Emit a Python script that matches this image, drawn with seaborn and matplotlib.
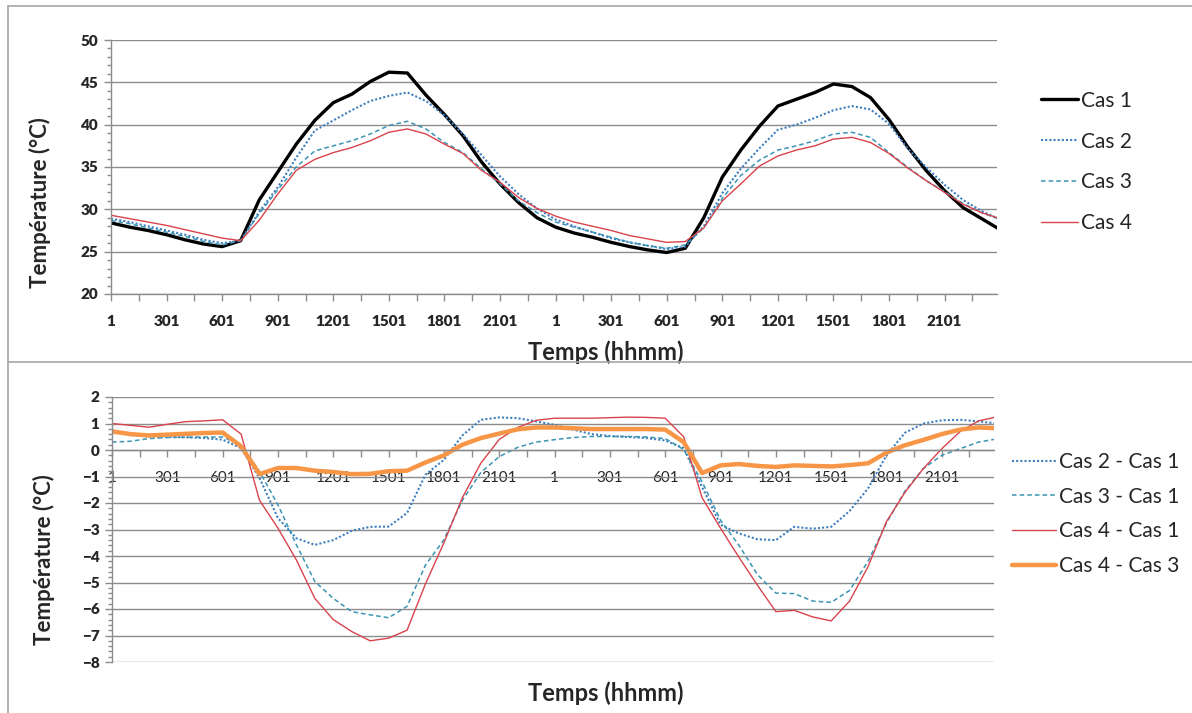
import matplotlib.pyplot as plt
import seaborn as sns
from matplotlib.lines import Line2D
from matplotlib.ticker import MultipleLocator, FixedLocator

# time axis: hours over two days, labels every 3 h
hours = list(range(49))
tick_hours = [0, 3, 6, 9, 12, 15, 18, 21, 24, 27, 30, 33, 36, 39, 42, 45]
tick_labels = ["1", "301", "601", "901", "1201", "1501", "1801", "2101"] * 2

# top panel - temperatures (°C)
cas1 = [28.4, 27.9, 27.5, 27.0, 26.4, 25.9, 25.6, 26.3, 31.1, 34.4,
        37.7, 40.5, 42.6, 43.6, 45.1, 46.2, 46.1, 43.5, 41.2, 38.7,
        35.6, 33.0, 30.8, 29.0, 27.9, 27.2, 26.7, 26.1, 25.6, 25.2,
        24.9, 25.4, 29.0, 33.8, 37.0, 39.8, 42.2, 43.0, 43.8, 44.8,
        44.5, 43.2, 40.6, 37.4, 34.6, 32.2, 30.2, 28.9, 27.6]
cas2 = [28.9, 28.5, 28.0, 27.5, 27.0, 26.4, 26.0, 26.3, 29.7, 32.6,
        36.1, 39.3, 40.5, 41.7, 42.8, 43.4, 43.8, 42.8, 41.1, 38.9,
        36.4, 33.9, 31.8, 30.1, 28.8, 28.0, 27.3, 26.6, 26.1, 25.7,
        25.3, 25.6, 28.0, 31.9, 34.8, 37.2, 39.4, 40.0, 40.8, 41.7,
        42.2, 41.8, 40.1, 37.2, 35.0, 32.9, 31.1, 29.8, 28.8]
cas3 = [28.7, 28.3, 27.8, 27.3, 26.8, 26.2, 25.8, 26.3, 29.5, 32.3,
        35.0, 36.9, 37.5, 38.1, 38.9, 39.9, 40.4, 39.5, 37.9, 36.7,
        34.8, 33.0, 31.0, 29.6, 28.5, 27.9, 27.3, 26.7, 26.1, 25.7,
        25.4, 25.8, 27.8, 31.3, 34.0, 35.8, 37.0, 37.5, 38.1, 38.9,
        39.1, 38.5, 36.7, 35.0, 33.4, 32.1, 30.7, 29.6, 28.8]
cas4 = [29.3, 28.9, 28.5, 28.1, 27.6, 27.1, 26.6, 26.3, 28.7, 31.8,
        34.6, 35.9, 36.7, 37.3, 38.1, 39.1, 39.5, 38.9, 37.7, 36.6,
        34.6, 33.2, 31.4, 30.1, 29.2, 28.5, 28.0, 27.5, 26.9, 26.5,
        26.1, 26.2, 27.8, 31.0, 33.0, 35.1, 36.3, 37.0, 37.5, 38.3,
        38.5, 37.9, 36.6, 34.9, 33.4, 32.0, 30.6, 29.6, 28.9]

# bottom panel - differences (°C)
diff21 = [0.75, 0.57, 0.51, 0.50, 0.48, 0.45, 0.39, 0.07, -1.06, -2.57,
          -3.33, -3.58, -3.40, -3.05, -2.90, -2.89, -2.38, -0.93, -0.37, 0.55,
          1.14, 1.23, 1.20, 1.08, 0.95, 0.77, 0.60, 0.53, 0.49, 0.45,
          0.36, 0.07, -1.40, -2.82, -3.15, -3.37, -3.40, -2.90, -2.97, -2.90,
          -2.30, -1.45, -0.20, 0.65, 1.00, 1.12, 1.14, 1.08, 1.00]
diff31 = [0.30, 0.33, 0.43, 0.47, 0.48, 0.49, 0.49, 0.20, -0.81, -2.07,
          -3.58, -4.96, -5.60, -6.10, -6.22, -6.33, -5.90, -4.34, -3.39, -1.90,
          -0.85, -0.25, 0.10, 0.30, 0.39, 0.47, 0.51, 0.51, 0.51, 0.49,
          0.43, 0.02, -1.20, -2.65, -3.60, -4.70, -5.40, -5.42, -5.70, -5.75,
          -5.30, -4.20, -2.75, -1.55, -0.70, -0.20, 0.05, 0.30, 0.42]
diff41 = [1.00, 0.93, 0.86, 0.97, 1.07, 1.10, 1.14, 0.60, -1.90, -2.95,
          -4.15, -5.60, -6.40, -6.85, -7.20, -7.10, -6.80, -5.05, -3.50, -1.80,
          -0.50, 0.40, 0.85, 1.12, 1.20, 1.20, 1.20, 1.22, 1.24, 1.23,
          1.20, 0.50, -1.80, -2.95, -4.05, -5.10, -6.10, -6.05, -6.30, -6.45,
          -5.70, -4.40, -2.70, -1.60, -0.70, 0.05, 0.70, 1.10, 1.25]
diff43 = [0.70, 0.60, 0.55, 0.58, 0.61, 0.64, 0.66, 0.14, -0.91, -0.68,
          -0.68, -0.78, -0.83, -0.91, -0.90, -0.80, -0.78, -0.47, -0.20, 0.20,
          0.45, 0.62, 0.78, 0.85, 0.85, 0.82, 0.79, 0.79, 0.79, 0.79,
          0.77, 0.30, -0.87, -0.58, -0.53, -0.60, -0.64, -0.58, -0.60, -0.62,
          -0.57, -0.50, -0.10, 0.18, 0.38, 0.60, 0.77, 0.85, 0.82]

top_series = [("Cas 1", cas1, "black", "-", 2.4),
              ("Cas 2", cas2, "#3f7fbf", (0, (1, 1)), 1.5),
              ("Cas 3", cas3, "#3a94b4", (0, (3, 2)), 1.1),
              ("Cas 4", cas4, "#d9434b", "-", 1.0)]
bottom_series = [("Cas 2 - Cas 1", diff21, "#3f7fbf", (0, (1, 1)), 1.5),
                 ("Cas 3 - Cas 1", diff31, "#3a94b4", (0, (3, 2)), 1.1),
                 ("Cas 4 - Cas 1", diff41, "#d9434b", "-", 1.0),
                 ("Cas 4 - Cas 3", diff43, "#f79646", "-", 3.2)]

sns.set_style("white")
plt.rcParams['font.family'] = ['Lato', 'DejaVu Sans']

W, H = 1192, 713
grid_col = "#8c8c8c"
fig = plt.figure(figsize=(W / 100, H / 100), dpi=100)
ax1 = fig.add_axes([111 / W, 1 - 294 / H, 886 / W, 254 / H])
ax2 = fig.add_axes([112 / W, 1 - 662 / H, 882 / W, 265 / H])


def style_axis(ax, minor_y):
    for s in ["top", "right"]:
        ax.spines[s].set_visible(False)
    for s in ["left", "bottom"]:
        ax.spines[s].set_color(grid_col)
        ax.spines[s].set_linewidth(1)
    ax.set_xlim(0, 47.83)
    ax.xaxis.set_major_locator(FixedLocator(tick_hours))
    ax.set_xticklabels(tick_labels)
    ax.xaxis.set_minor_locator(FixedLocator([h + 1.5 for h in tick_hours]))
    ax.yaxis.set_minor_locator(MultipleLocator(minor_y))
    ax.tick_params(axis="both", which="both", direction="out", color=grid_col,
                   bottom=True, left=True, width=1)
    ax.tick_params(axis="x", which="both", length=5, pad=10, labelsize=11)
    ax.tick_params(axis="y", which="major", length=5, pad=4, labelsize=11)
    ax.tick_params(axis="y", which="minor", length=3)
    for lab in ax.get_xticklabels() + ax.get_yticklabels():
        lab.set_fontweight("heavy")
    ax.grid(axis="y", which="major", color=grid_col, linewidth=1)
    ax.set_axisbelow(True)


def draw(ax, series):
    for name, vals, col, ls, lw in series:
        sns.lineplot(x=hours, y=vals, color=col, linestyle=ls, linewidth=lw,
                     label=name, ax=ax)


# top chart
draw(ax1, top_series)
ax1.set_ylim(20, 50)
ax1.yaxis.set_major_locator(MultipleLocator(5))
style_axis(ax1, 1)
ax1.set_xlabel("Temps (hhmm)", fontsize=17, fontweight="bold", va="center")
ax1.xaxis.set_label_coords(0.558, -0.228)
ax1.set_ylabel("Température (°C)", fontsize=16, fontweight="bold", va="center")
ax1.yaxis.set_label_coords(-0.080, 0.36)
ax1.legend(loc="center left", bbox_to_anchor=(1022 / W, 1 - 162 / H),
           bbox_transform=fig.transFigure, frameon=False, fontsize=15,
           handlelength=1.8, handletextpad=0.15, labelspacing=1.0)

# bottom chart
draw(ax2, bottom_series)
ax2.set_ylim(-8, 2)
ax2.yaxis.set_major_locator(MultipleLocator(1))
style_axis(ax2, 0.2)
ax2.spines["bottom"].set_position(("data", 0))
ax2.set_xlabel("Temps (hhmm)", fontsize=17, fontweight="bold", va="center")
ax2.xaxis.set_label_coords(0.560, -0.117)
ax2.set_ylabel("Température (°C)", fontsize=16, fontweight="bold", va="center")
ax2.yaxis.set_label_coords(-0.077, 0.385)
ax2.legend(loc="center left", bbox_to_anchor=(993 / W, 1 - 514 / H),
           bbox_transform=fig.transFigure, frameon=False, fontsize=15,
           handlelength=2.1, handletextpad=0.15, labelspacing=0.7)

# panel frames
frame = dict(transform=fig.transFigure, color="#a6a6a6", linewidth=1.2)
fig.add_artist(Line2D([8 / W, 1], [1 - 6 / H, 1 - 6 / H], **frame))
fig.add_artist(Line2D([8 / W, 1], [1 - 362 / H, 1 - 362 / H], **frame))
fig.add_artist(Line2D([8 / W, 8 / W], [1 - 6 / H, 0], **frame))

fig.savefig("out.png", dpi=100)
